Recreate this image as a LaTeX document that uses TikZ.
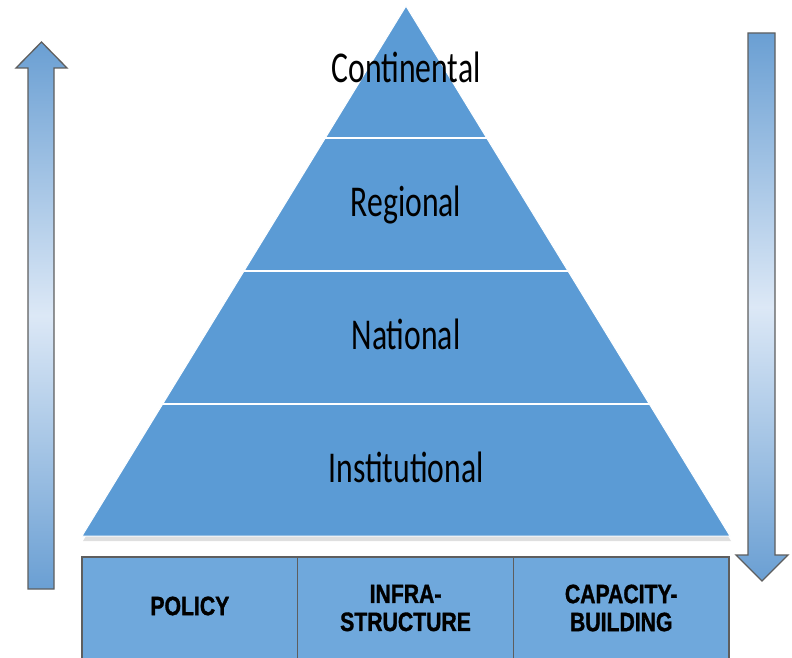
\documentclass[tikz,border=0pt]{standalone}
\usepackage{fontspec}
\usetikzlibrary{calc,shadows}
\newfontfamily\levelfont[FakeStretch=0.72]{Carlito}
\newfontfamily\basefont[FakeStretch=0.8, FakeBold=1.2]{Liberation Sans}
\definecolor{pyrblue}{HTML}{5B9BD5}
\definecolor{baseblue}{HTML}{6FA8DC}
\definecolor{arrblue}{HTML}{6A9FD3}
\definecolor{arrlight}{HTML}{DCE8F6}
\definecolor{edgegray}{HTML}{5E5E5E}
\tikzset{
	levellabel/.style={anchor=base, inner sep=0pt, font=\levelfont\fontsize{44}{50}\selectfont},
	basebox/.style={draw=edgegray, line width=1.3pt, fill=baseblue, anchor=north west, outer sep=0pt,
		minimum width=215.7pt, minimum height=130pt, inner sep=0pt},
	basetext/.style={inner sep=0pt, align=center, font=\basefont\bfseries\fontsize{26.5}{28}\selectfont},
	bigarrow/.style={draw=edgegray, line width=1.3pt, top color=arrblue, bottom color=arrblue, middle color=arrlight},
	divider/.style={draw=white, line width=2pt}
}

\begin{document}
\begin{tikzpicture}[x=1pt, y=-1pt]
			%%%%% START %%%%%
			\useasboundingbox (0, 0) rectangle (792, 658);
			\clip (0, 0) rectangle (792, 658);
			
			% side arrows
			\path[bigarrow] (41.5, 42) -- (67, 68) -- (54, 68) -- (54, 589) -- (28, 589) -- (28, 68) -- (16, 68) -- cycle;
			\path[bigarrow] (748, 33) -- (775, 33) -- (775, 555) -- (788, 555) -- (762, 581) -- (736, 555) -- (748, 555) -- cycle;
			
			% pyramid
			\coordinate (apex) at (406, 6);
			\coordinate (bl) at (82, 536);
			\coordinate (br) at (730, 536);
			\fill[pyrblue, drop shadow={shadow xshift=1pt, shadow yshift=-5pt, opacity=0.25}] (apex) -- (br) -- (bl) -- cycle;
			\draw[white, line width=1pt] (apex) -- (br) -- (bl) -- cycle;
			\foreach \t in {0.25, 0.5, 0.75}
				\draw[divider] ($(apex)!\t!(bl)$) -- ($(apex)!\t!(br)$);
			
			\node[levellabel] (continental) at (406, 83) {Continental};
			\node[levellabel] (regional) at (406, 216) {Regional};
			\node[levellabel] (national) at (406, 349) {National};
			\node[levellabel] (institutional) at (406, 482) {Institutional};
			
			% base boxes
			\node[basebox] (policy) at (82, 557) {};
			\node[basebox] (infra) at (policy.north east) {};
			\node[basebox] (capacity) at (infra.north east) {};
			
			\node[basetext] (policytext) at ([yshift=-49pt]policy.north) {POLICY};
			\node[basetext] (infratext) at ([yshift=-51pt]infra.north) {INFRA-\\STRUCTURE};
			\node[basetext] (capacitytext) at ([yshift=-51pt]capacity.north) {CAPACITY-\\BUILDING};
			%%%%% END %%%%%
\end{tikzpicture}
\end{document}
